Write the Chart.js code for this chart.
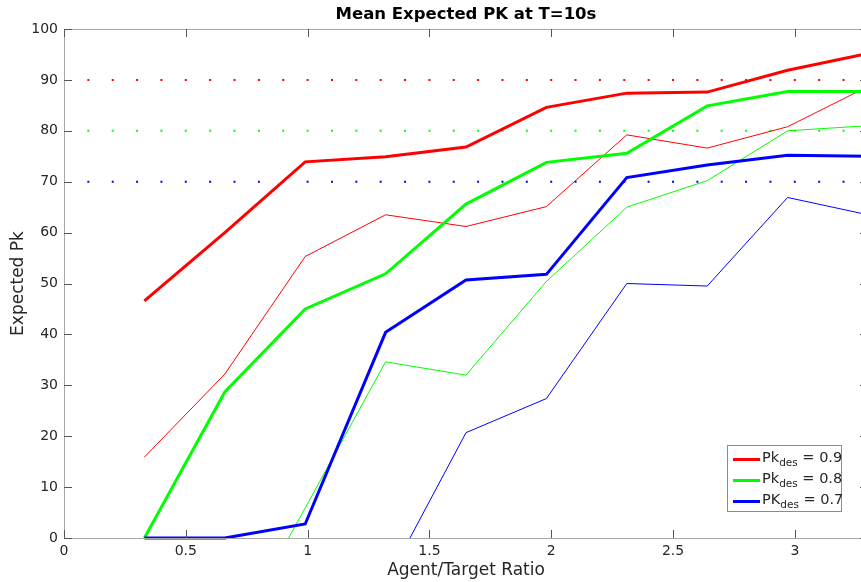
<!DOCTYPE html>
<html>
  <head>
    <script src="https://cdn.jsdelivr.net/npm/chart.js@4.4.0/dist/chart.umd.min.js"></script>
    <style>
      body { margin: 0; overflow: hidden; background: #fff; }
      #wrap { position: absolute; left: 0; top: 0; width: 876px; height: 582px; }
      #legend {
        position: absolute; left: 727px; top: 445px; width: 113px; height: 65px;
        border: 1px solid #8c8c8c; background: #fff;
        font-family: "DejaVu Sans", sans-serif; font-size: 14.5px; color: #262626;
      }
      #legend .row { position: absolute; left: 0; height: 20px; line-height: 20px; white-space: nowrap; }
      #legend .swatch { position: absolute; left: 5px; top: 9px; width: 27px; height: 3px; }
      #legend .txt { position: absolute; left: 34px; top: -2px; }
      #legend sub { font-size: 10.5px; vertical-align: -4px; line-height: 0; }
    </style>
  </head>
  <body>
    <div id="wrap"><canvas id="chart-pk"></canvas></div>
    <div id="legend"></div>
    <script>
      // INPUT DATA

      const ratios = [0.33, 0.66, 0.99, 1.32, 1.65, 1.98, 2.31, 2.64, 2.97, 3.3];

      const meanPk90 = [46.6, 60.0, 73.9, 74.9, 76.8, 84.6, 87.4, 87.6, 91.9, 95.2];
      const lowPk90 = [15.9, 32.2, 55.3, 63.5, 61.2, 65.1, 79.2, 76.6, 80.8, 88.7];
      const meanPk80 = [0, 28.7, 45.0, 51.9, 65.6, 73.8, 75.6, 84.9, 87.7, 87.7];
      const lowPk80 = [0, -22.6, 5.9, 34.6, 32.0, 50.4, 65.0, 70.2, 80.0, 81.0];
      const meanPk70 = [0, 0, 2.75, 40.4, 50.7, 51.8, 70.8, 73.3, 75.2, 75.0];
      const lowPk70 = [0, 0, -20, -9.0, 20.7, 27.4, 50.0, 49.5, 66.9, 63.5];

      // desired Pk levels (dotted lines) and legend text
      const desiredLevels = [90, 80, 70];
      const levelSpan = [0, 3.3];
      const seriesColors = ["#ff0000", "#00ff00", "#0000ff"];
      const legendBase = ["Pk", "Pk", "PK"];
      const legendValue = ["0.9", "0.8", "0.7"];

      const xTicks = [0, 0.5, 1, 1.5, 2, 2.5, 3];

      // PLOTTING DATA

      function pts(ys) {
        return ratios.map(function (x, i) {
          return { x: x, y: ys[i] };
        });
      }

      const thickClip = { left: 0, top: 0, right: 0, bottom: 2 };

      const datasets = [];
      [meanPk70, meanPk80, meanPk90].forEach(function (ys, i) {
        datasets.push({
          label: "mean " + i,
          data: pts(ys),
          borderColor: seriesColors[2 - i],
          borderWidth: 3,
          pointRadius: 0,
          clip: thickClip,
          order: i,
        });
      });
      [lowPk70, lowPk80, lowPk90].forEach(function (ys, i) {
        datasets.push({
          label: "low " + i,
          data: pts(ys),
          borderColor: seriesColors[2 - i],
          borderWidth: 1,
          pointRadius: 0,
          clip: 0,
          order: 3 + i,
        });
      });
      desiredLevels.forEach(function (v, i) {
        datasets.push({
          label: "level " + v,
          data: levelSpan.map(function (x) {
            return { x: x, y: v };
          }),
          borderColor: seriesColors[i],
          borderWidth: 2,
          borderDash: [2, 22.36],
          borderDashOffset: 1,
          pointRadius: 0,
          clip: 2,
          order: 10 + i,
        });
      });

      // matlab-like box with inward ticks
      const boxPlugin = {
        id: "box",
        afterDraw: function (chart) {
          const ctx = chart.ctx;
          const a = chart.chartArea;
          const xs = chart.scales.x;
          const ys = chart.scales.y;
          const len = 8;
          ctx.save();
          ctx.strokeStyle = "#a6a6a6";
          ctx.lineWidth = 1;
          ctx.strokeRect(
            Math.round(a.left) + 0.5,
            Math.round(a.top) + 0.5,
            Math.round(a.right - a.left),
            Math.round(a.bottom - a.top)
          );
          ctx.strokeStyle = "#555";
          ctx.beginPath();
          xs.ticks.forEach(function (t) {
            const px = Math.round(xs.getPixelForValue(t.value)) + 0.5;
            ctx.moveTo(px, a.bottom);
            ctx.lineTo(px, a.bottom - len);
            ctx.moveTo(px, a.top);
            ctx.lineTo(px, a.top + len);
          });
          ys.ticks.forEach(function (t) {
            const py = Math.round(ys.getPixelForValue(t.value)) + 0.5;
            ctx.moveTo(a.left, py);
            ctx.lineTo(a.left + len, py);
            ctx.moveTo(a.right, py);
            ctx.lineTo(a.right - len, py);
          });
          ctx.stroke();
          ctx.restore();
        },
      };

      const tickFont = { family: "DejaVu Sans", size: 14 };
      const labelFont = { family: "DejaVu Sans", size: 17 };

      const chart = new Chart(document.getElementById("chart-pk"), {
        type: "line",
        data: { datasets: datasets },
        plugins: [boxPlugin],
        options: {
          responsive: true,
          maintainAspectRatio: false,
          animation: false,
          layout: { padding: { top: 0, right: 8, bottom: 0, left: 0 } },
          elements: { line: { tension: 0 } },
          plugins: {
            legend: { display: false },
            tooltip: { enabled: false },
            title: {
              display: true,
              text: "Mean Expected PK at T=10s",
              fullSize: false,
              color: "#000",
              font: { family: "DejaVu Sans", size: 16.5, weight: "bold" },
              padding: { top: 5, bottom: 4.2 },
            },
          },
          scales: {
            x: {
              type: "linear",
              min: 0,
              max: 3.3,
              grid: { display: false, drawTicks: false },
              border: { display: false },
              afterFit: function (s) {
                s.height = 44;
              },
              afterBuildTicks: function (s) {
                s.ticks = xTicks.map(function (v) {
                  return { value: v };
                });
              },
              ticks: {
                color: "#262626",
                font: tickFont,
                padding: 5,
                maxRotation: 0,
                callback: function (v) {
                  return String(v);
                },
              },
              title: {
                display: true,
                text: "Agent/Target Ratio",
                color: "#262626",
                font: labelFont,
                padding: { top: 0, bottom: 1 },
              },
            },
            y: {
              min: 0,
              max: 100,
              grid: { display: false, drawTicks: false },
              border: { display: false },
              afterFit: function (s) {
                s.width = 64;
              },
              ticks: { stepSize: 10, color: "#262626", font: tickFont, padding: 6 },
              title: {
                display: true,
                text: "Expected Pk",
                color: "#262626",
                font: labelFont,
                padding: { top: 8, bottom: 0 },
              },
            },
          },
        },
      });

      // legend with subscripts
      const legend = document.getElementById("legend");
      legendBase.forEach(function (b, i) {
        const row = document.createElement("div");
        row.className = "row";
        row.style.top = 3 + i * 21 + "px";
        row.style.width = "113px";
        row.innerHTML =
          '<span class="swatch" style="background:' + seriesColors[i] + '"></span>' +
          '<span class="txt">' + b + "<sub>des</sub> = " + legendValue[i] + "</span>";
        legend.appendChild(row);
      });
    </script>
  </body>
</html>
